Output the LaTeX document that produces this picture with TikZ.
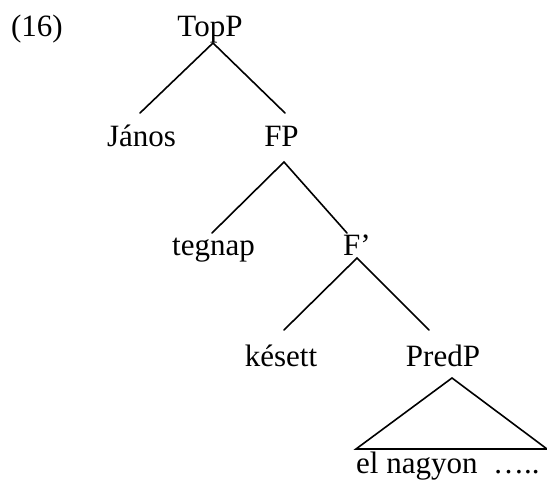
\documentclass[tikz,border=0pt]{standalone}
\usepackage{fontspec}
\setmainfont{Liberation Serif}
\begin{document}
\begin{tikzpicture}[x=1pt,y=-1pt,
  lbl/.style={anchor=base,inner sep=0pt,font=\fontsize{31}{36}\selectfont},
  edge/.style={line width=1.6pt,line cap=round}]
\useasboundingbox (0,0) rectangle (547,481);
\node[lbl] (ex) at (37,37) {(16)};
\node[lbl] (TopP) at (210,37) {TopP};
\node[lbl] (Janos) at (141.5,147) {János};
\node[lbl] (FP) at (281.5,147) {FP};
\node[lbl] (tegnap) at (213.5,256) {tegnap};
\node[lbl] (Fbar) at (357,256) {F’};
\node[lbl] (kesett) at (281,367) {késett};
\node[lbl] (PredP) at (443,367) {PredP};
\node[lbl,anchor=base west] (leaf) at (356,474) {el nagyon\ \ …..};
% connector ends
\coordinate (t0) at (213,43);
\coordinate (t1) at (140,113);
\coordinate (t2) at (285,113);
\coordinate (f0) at (284,162);
\coordinate (f1) at (212,233);
\coordinate (f2) at (347,233);
\coordinate (g0) at (357,258);
\coordinate (g1) at (284,330);
\coordinate (g2) at (429,330);
\coordinate (p0) at (452,378);
\coordinate (p1) at (356,449);
\coordinate (p2) at (547,449);
\draw[edge] (t1) -- (t0) -- (t2);
\draw[edge] (f1) -- (f0) -- (f2);
\draw[edge] (g1) -- (g0) -- (g2);
\draw[edge,line join=miter] (p0) -- (p1) -- (p2) -- cycle;
\end{tikzpicture}
\end{document}
